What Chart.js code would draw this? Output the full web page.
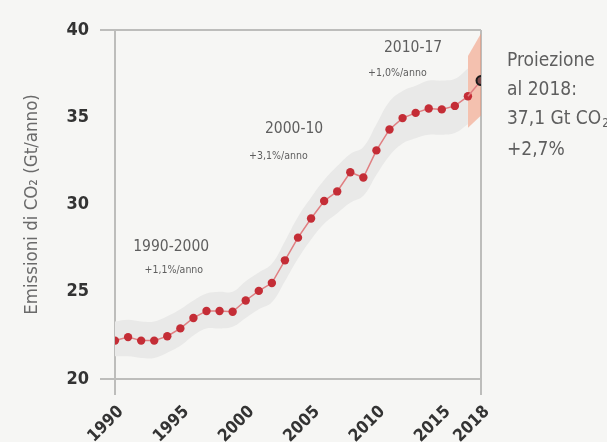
<!DOCTYPE html>
<html>
<head>
<meta charset="utf-8">
<script src="https://cdn.jsdelivr.net/npm/chart.js@4.4.1/dist/chart.umd.min.js"></script>
<style>
  html, body { margin:0; padding:0; background:#f6f6f4; }
  #wrap { width:607px; height:442px; }
</style>
</head>
<body>
<div id="wrap"><canvas id="c" width="607" height="442"></canvas></div>
<script>
// CO2 emissions, Gt/year
const years     = [1990,1991,1992,1993,1994,1995,1996,1997,1998,1999,2000,2001,2002,2003,2004,2005,2006,2007,2008,2009,2010,2011,2012,2013,2014,2015,2016,2017];
const emissions = [22.2,22.4,22.2,22.2,22.45,22.9,23.5,23.9,23.9,23.85,24.5,25.05,25.5,26.8,28.1,29.2,30.2,30.75,31.85,31.55,33.1,34.3,34.95,35.25,35.5,35.45,35.65,36.2];
const bandHigh  = [23.3,23.4,23.3,23.3,23.6,24.0,24.5,24.9,25.0,25.0,25.6,26.1,26.6,27.9,29.3,30.4,31.4,32.2,32.9,33.3,34.6,35.9,36.5,36.8,37.1,37.1,37.2,37.8];
const bandLow   = [21.3,21.3,21.2,21.2,21.5,21.9,22.5,22.9,22.9,23.0,23.5,24.0,24.4,25.6,26.9,28.0,28.9,29.5,30.1,30.5,31.7,32.8,33.5,33.8,34.0,34.0,34.1,34.6];

const projYears = [2017, 2018];
const projHigh  = [38.5, 39.8];
const projLow   = [34.4, 35.1];
const projYear  = 2018;
const projValue = 37.1;

const xTickValues = [1990,1995,2000,2005,2010,2015,2018];
const yMin = 20, yMax = 40, yStep = 5;

const notes = [
  { text:'1990-2000',  x:1994.3, y:27.55, size:15.5 },
  { text:'+1,1%/anno', x:1994.5, y:26.25, size:10.5 },
  { text:'2000-10',    x:2003.7, y:34.35, size:15.5 },
  { text:'+3,1%/anno', x:2002.5, y:32.75, size:10.5 },
  { text:'2010-17',    x:2012.8, y:38.95, size:15.5 },
  { text:'+1,0%/anno', x:2011.6, y:37.5,  size:10.5 },
];
const sideNotes = [
  { text:'Proiezione', y:38.2 },
  { text:'al 2018:',   y:36.55 },
  { text:'37,1 Gt CO', sub:'2', y:34.9 },
  { text:'+2,7%',      y:33.1 },
];

const FONT = "'DejaVu Sans Condensed', 'Roboto', sans-serif";
const pts = (xs, ys) => xs.map((x, i) => ({ x, y: ys[i] }));

const frameColor = '#bdbdbb';
const gridAt = (vals) => (ctx) => (ctx.tick && vals.includes(ctx.tick.value)) ? frameColor : 'transparent';

const notesPlugin = {
  id: 'notes',
  afterDatasetsDraw(chart) {
    const { ctx, scales: { x, y }, chartArea } = chart;
    ctx.save();
    ctx.fillStyle = '#5e5e5e';
    ctx.textAlign = 'center';
    ctx.textBaseline = 'middle';
    notes.forEach(n => {
      ctx.font = `${n.size}px ${FONT}`;
      ctx.fillText(n.text, x.getPixelForValue(n.x), y.getPixelForValue(n.y));
    });
    ctx.textAlign = 'left';
    const left = chartArea.right + 26;
    sideNotes.forEach(n => {
      ctx.font = `19px ${FONT}`;
      const py = y.getPixelForValue(n.y);
      ctx.fillText(n.text, left, py);
      if (n.sub) {
        const w = ctx.measureText(n.text).width;
        ctx.font = `12px ${FONT}`;
        ctx.fillText(n.sub, left + w + 1, py + 5);
      }
    });
    ctx.restore();
  }
};

const bgPlugin = {
  id: 'bg',
  beforeDraw(chart) {
    const { ctx } = chart;
    ctx.save();
    ctx.fillStyle = '#f6f6f4';
    ctx.fillRect(0, 0, chart.width, chart.height);
    ctx.restore();
  }
};

new Chart(document.getElementById('c'), {
  type: 'line',
  data: {
    datasets: [
      { data: pts(years, bandHigh), fill: '+1', backgroundColor: '#e9e9e8', borderWidth: 0, pointRadius: 0, tension: 0.4, order: 5 },
      { data: pts(years, bandLow),  fill: false, borderWidth: 0, pointRadius: 0, tension: 0.4, order: 5 },
      { data: pts(projYears, projHigh), fill: '+1', backgroundColor: 'rgba(242,150,118,0.55)', borderWidth: 0, pointRadius: 0, order: 4 },
      { data: pts(projYears, projLow),  fill: false, borderWidth: 0, pointRadius: 0, order: 4 },
      { data: [{ x: years[years.length-1], y: emissions[emissions.length-1] }, { x: projYear, y: projValue }],
        borderColor: '#e07f82', borderWidth: 1.5, pointRadius: [0, 4.5],
        pointBackgroundColor: '#7a4a4a', pointBorderColor: '#1a1a1a', pointBorderWidth: 2, order: 0 },
      { data: pts(years, emissions), borderColor: '#e07f82', borderWidth: 1.5,
        pointRadius: 4.2, pointBackgroundColor: '#c42d36', pointBorderWidth: 0, tension: 0, order: 1 },
    ]
  },
  options: {
    responsive: false, animation: false, devicePixelRatio: 1,
    layout: { padding: { top: 30, right: 126, left: 0, bottom: 0 } },
    plugins: { legend: { display: false }, tooltip: { enabled: false } },
    scales: {
      x: {
        type: 'linear', min: 1990, max: 2018,
        afterBuildTicks: (s) => { s.ticks = xTickValues.map(v => ({ value: v })); },
        afterFit: (s) => { s.height = 442 - 379; },
        grid: { color: gridAt([1990, 2018]), lineWidth: 2, tickLength: 16, drawTicks: true },
        border: { display: false },
        ticks: { minRotation: 45, maxRotation: 45, padding: 7, labelOffset: 6, color: '#333',
                 font: { family: FONT, size: 17, weight: 'bold' }, callback: v => String(v) }
      },
      y: {
        min: yMin, max: yMax,
        afterFit: (s) => { s.width = 115; },
        grid: { color: gridAt([20, 40]), lineWidth: 2, tickLength: 15, drawTicks: true },
        border: { display: false },
        ticks: { stepSize: yStep, padding: 11, color: '#333',
                 font: { family: FONT, size: 18, weight: 'bold' } },
        title: { display: true, text: 'Emissioni di CO₂ (Gt/anno)', color: '#6a6a6a',
                 font: { family: FONT, size: 18.5 }, padding: { top: 21, bottom: 0 } }
      }
    }
  },
  plugins: [bgPlugin, notesPlugin]
});
</script>
</body>
</html>
